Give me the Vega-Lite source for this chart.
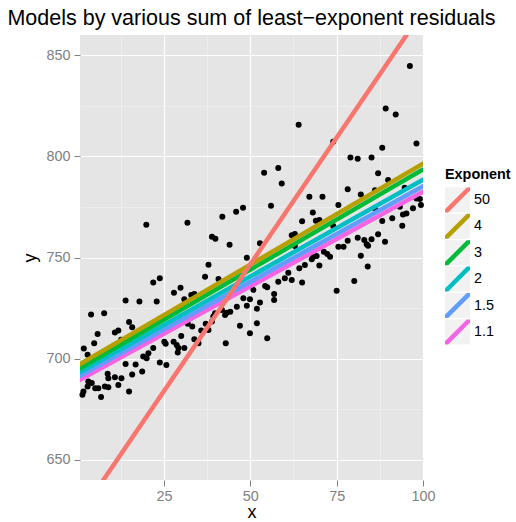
{
  "$schema": "https://vega.github.io/schema/vega-lite/v6.json",
  "width": 343,
  "height": 445,
  "autosize": {"type": "none"},
  "padding": {"left": 80, "top": 35, "right": 93, "bottom": 42},
  "background": "white",
  "title": {
    "text": "Models by various sum of least−exponent residuals",
    "font": "Liberation Sans",
    "fontSize": 21.5,
    "fontWeight": "normal",
    "color": "black",
    "anchor": "middle",
    "offset": 6
  },
  "config": {
    "view": {"fill": "#e5e5e5", "stroke": null},
    "font": "Liberation Sans",
    "axis": {
      "domain": false,
      "tickColor": "#7f7f7f",
      "tickSize": 6,
      "tickWidth": 1,
      "labelColor": "#7f7f7f",
      "labelFont": "Liberation Sans",
      "labelFontSize": 14.4,
      "labelOverlap": false,
      "labelFlush": false,
      "titleFont": "Liberation Sans",
      "titleFontSize": 18,
      "titleFontWeight": "normal",
      "titleColor": "black"
    },
    "legend": {
      "padding": 0,
      "titleFont": "Liberation Sans",
      "titleFontSize": 14.4,
      "titleFontWeight": "bold",
      "titleColor": "black",
      "labelFont": "Liberation Sans",
      "labelFontSize": 14.4,
      "labelColor": "black"
    }
  },
  "datasets": {
    "points": [
      {"x": 23.8, "y": 739.7}, {"x": 21.9, "y": 737.6}, {"x": 13.9, "y": 728.7}, {"x": 17.9, "y": 728.2},
      {"x": 22.9, "y": 728.2}, {"x": 3.9, "y": 721.8}, {"x": 7.7, "y": 722.4}, {"x": 14.9, "y": 718.1},
      {"x": 15.8, "y": 715.5}, {"x": 10.8, "y": 712.9}, {"x": 11.8, "y": 713.9}, {"x": 5.8, "y": 712.2},
      {"x": 4.8, "y": 707.6}, {"x": 12.6, "y": 709.3}, {"x": 1.8, "y": 705.0}, {"x": 2.9, "y": 701.9},
      {"x": 25.1, "y": 708.4}, {"x": 25.5, "y": 707.3}, {"x": 21.9, "y": 705.2}, {"x": 20.5, "y": 702.7},
      {"x": 19.0, "y": 701.0}, {"x": 20.0, "y": 700.2}, {"x": 23.8, "y": 698.1}, {"x": 25.7, "y": 696.9},
      {"x": 13.9, "y": 697.4}, {"x": 16.8, "y": 697.1}, {"x": 18.7, "y": 693.6}, {"x": 8.7, "y": 692.5},
      {"x": 8.9, "y": 690.3}, {"x": 10.8, "y": 690.8}, {"x": 12.7, "y": 690.3}, {"x": 15.8, "y": 692.1},
      {"x": 11.8, "y": 687.0}, {"x": 4.1, "y": 687.9}, {"x": 2.9, "y": 686.2}, {"x": 5.1, "y": 685.4},
      {"x": 6.0, "y": 685.4}, {"x": 7.9, "y": 686.2}, {"x": 1.7, "y": 683.7}, {"x": 1.4, "y": 682.1},
      {"x": 6.8, "y": 681.0}, {"x": 14.9, "y": 683.7}, {"x": 8.9, "y": 685.9}, {"x": 3.1, "y": 688.7},
      {"x": 19.9, "y": 766.2}, {"x": 31.8, "y": 767.2}, {"x": 41.9, "y": 770.1}, {"x": 45.9, "y": 772.6},
      {"x": 47.9, "y": 774.6}, {"x": 38.9, "y": 760.3}, {"x": 39.9, "y": 759.3}, {"x": 44.0, "y": 756.3},
      {"x": 49.0, "y": 749.9}, {"x": 37.9, "y": 746.4}, {"x": 36.9, "y": 740.5}, {"x": 40.8, "y": 739.4},
      {"x": 27.9, "y": 732.6}, {"x": 29.8, "y": 735.1}, {"x": 30.9, "y": 729.4}, {"x": 32.9, "y": 731.5},
      {"x": 33.8, "y": 732.0}, {"x": 48.0, "y": 729.9}, {"x": 49.9, "y": 729.4}, {"x": 46.1, "y": 725.7},
      {"x": 49.0, "y": 726.2}, {"x": 43.2, "y": 722.7}, {"x": 44.2, "y": 723.2}, {"x": 39.8, "y": 722.4},
      {"x": 39.3, "y": 720.8}, {"x": 37.1, "y": 717.2}, {"x": 47.0, "y": 716.2}, {"x": 35.8, "y": 713.9},
      {"x": 31.9, "y": 717.2}, {"x": 30.0, "y": 711.2}, {"x": 49.9, "y": 712.6}, {"x": 33.8, "y": 709.6},
      {"x": 35.0, "y": 707.6}, {"x": 27.8, "y": 708.4}, {"x": 28.7, "y": 706.8}, {"x": 29.2, "y": 705.2},
      {"x": 29.0, "y": 703.0}, {"x": 30.9, "y": 705.2}, {"x": 42.9, "y": 707.6}, {"x": 33.2, "y": 715.9},
      {"x": 38.9, "y": 718.3}, {"x": 41.8, "y": 724.1}, {"x": 42.7, "y": 721.6}, {"x": 37.9, "y": 714.2},
      {"x": 64.0, "y": 815.6}, {"x": 74.0, "y": 807.2}, {"x": 54.0, "y": 791.9}, {"x": 58.1, "y": 794.3},
      {"x": 59.1, "y": 786.6}, {"x": 56.0, "y": 775.6}, {"x": 67.1, "y": 780.0}, {"x": 70.9, "y": 780.0},
      {"x": 75.5, "y": 775.9}, {"x": 68.1, "y": 772.3}, {"x": 69.0, "y": 768.2}, {"x": 70.0, "y": 768.5},
      {"x": 65.0, "y": 767.9}, {"x": 62.0, "y": 761.0}, {"x": 62.9, "y": 761.6}, {"x": 52.8, "y": 757.0},
      {"x": 62.9, "y": 755.7}, {"x": 71.3, "y": 752.9}, {"x": 72.3, "y": 751.7}, {"x": 73.1, "y": 750.4},
      {"x": 75.5, "y": 755.3}, {"x": 68.2, "y": 750.4}, {"x": 69.2, "y": 750.7}, {"x": 67.8, "y": 749.1},
      {"x": 65.8, "y": 746.3}, {"x": 64.2, "y": 744.7}, {"x": 70.0, "y": 746.0}, {"x": 61.0, "y": 742.5},
      {"x": 60.0, "y": 739.7}, {"x": 62.0, "y": 738.9}, {"x": 58.1, "y": 738.0}, {"x": 65.0, "y": 737.6},
      {"x": 75.0, "y": 733.6}, {"x": 54.3, "y": 735.9}, {"x": 54.9, "y": 735.3}, {"x": 50.9, "y": 734.0},
      {"x": 56.9, "y": 732.0}, {"x": 56.9, "y": 729.0}, {"x": 52.8, "y": 727.7}, {"x": 51.9, "y": 724.7},
      {"x": 51.9, "y": 717.5}, {"x": 54.9, "y": 710.1}, {"x": 74.0, "y": 765.6},
      {"x": 96.2, "y": 844.7}, {"x": 89.2, "y": 823.7}, {"x": 92.1, "y": 820.7}, {"x": 98.1, "y": 806.4},
      {"x": 88.2, "y": 804.2}, {"x": 79.0, "y": 799.5}, {"x": 81.1, "y": 798.8}, {"x": 85.1, "y": 799.5},
      {"x": 87.0, "y": 791.6}, {"x": 89.9, "y": 788.3}, {"x": 78.2, "y": 783.7}, {"x": 82.0, "y": 781.2},
      {"x": 86.1, "y": 783.3}, {"x": 94.7, "y": 784.5}, {"x": 99.1, "y": 778.9}, {"x": 99.4, "y": 775.9},
      {"x": 98.1, "y": 779.2}, {"x": 93.3, "y": 775.1}, {"x": 94.2, "y": 771.3}, {"x": 95.2, "y": 771.8},
      {"x": 91.1, "y": 769.4}, {"x": 88.2, "y": 768.0}, {"x": 94.0, "y": 765.7}, {"x": 87.0, "y": 761.5},
      {"x": 81.1, "y": 759.8}, {"x": 78.2, "y": 758.3}, {"x": 83.0, "y": 758.6}, {"x": 83.7, "y": 756.5},
      {"x": 84.1, "y": 755.8}, {"x": 85.1, "y": 759.0}, {"x": 89.0, "y": 757.8}, {"x": 77.0, "y": 755.3},
      {"x": 82.0, "y": 750.9}, {"x": 84.0, "y": 745.5}, {"x": 80.1, "y": 738.4}, {"x": 97.1, "y": 774.3},
      {"x": 86.1, "y": 774.3}
    ],
    "lines": [
      {"Exponent": "1.1", "x": 0.7, "y": 689.6}, {"Exponent": "1.1", "x": 100, "y": 782.5},
      {"Exponent": "1.5", "x": 0.7, "y": 691.5}, {"Exponent": "1.5", "x": 100, "y": 785.2},
      {"Exponent": "2", "x": 0.7, "y": 693.4}, {"Exponent": "2", "x": 100, "y": 788.5},
      {"Exponent": "3", "x": 0.7, "y": 695.2}, {"Exponent": "3", "x": 100, "y": 793.5},
      {"Exponent": "4", "x": 0.7, "y": 697.3}, {"Exponent": "4", "x": 100, "y": 796.4},
      {"Exponent": "50", "x": 7.46, "y": 640}, {"Exponent": "50", "x": 95.25, "y": 860}
    ]
  },
  "layer": [
    {
      "data": {"name": "points"},
      "mark": {"type": "point", "filled": true, "color": "black", "opacity": 1, "size": 36},
      "encoding": {
        "x": {
          "field": "x", "type": "quantitative",
          "scale": {"domain": [0.7, 100], "nice": false, "zero": false},
          "axis": {
            "title": "x",
            "values": [12.5, 25, 37.5, 50, 62.5, 75, 87.5, 100],
            "labelExpr": "datum.value % 25 === 0 ? format(datum.value, 'd') : ''",
            "tickOpacity": {"condition": {"test": "datum.value % 25 !== 0", "value": 0}, "value": 1},
            "gridColor": {"condition": {"test": "datum.value % 25 !== 0", "value": "#f2f2f2"}, "value": "#ffffff"},
            "gridWidth": {"condition": {"test": "datum.value % 25 !== 0", "value": 0.6}, "value": 1.2},
            "labelPadding": 3,
            "titlePadding": 1
          }
        },
        "y": {
          "field": "y", "type": "quantitative",
          "scale": {"domain": [640, 860], "nice": false, "zero": false},
          "axis": {
            "title": "y",
            "values": [650, 675, 700, 725, 750, 775, 800, 825, 850],
            "labelExpr": "datum.value % 50 === 0 ? format(datum.value, 'd') : ''",
            "tickOpacity": {"condition": {"test": "datum.value % 50 !== 0", "value": 0}, "value": 1},
            "gridColor": {"condition": {"test": "datum.value % 50 !== 0", "value": "#f2f2f2"}, "value": "#ffffff"},
            "gridWidth": {"condition": {"test": "datum.value % 50 !== 0", "value": 0.6}, "value": 1.2},
            "labelPadding": 4,
            "titlePadding": 6
          }
        }
      }
    },
    {
      "data": {"name": "lines"},
      "mark": {"type": "square", "opacity": 0, "size": 10, "clip": true},
      "encoding": {
        "x": {"field": "x", "type": "quantitative"},
        "y": {"field": "y", "type": "quantitative"},
        "color": {
          "field": "Exponent", "type": "nominal",
          "scale": {"domain": ["1.1", "1.5", "2", "3", "4", "50"], "range": ["#f2f2f2", "#f2f2f2", "#f2f2f2", "#f2f2f2", "#f2f2f2", "#f2f2f2"]},
          "legend": {
            "orient": "none", "legendX": 365, "legendY": 133,
            "title": " ", "titlePadding": 5,
            "symbolType": "square", "symbolSize": 625, "symbolOpacity": 1, "symbolStrokeWidth": 0,
            "rowPadding": 1.4, "labelOffset": 4, "labelExpr": "''"
          }
        }
      }
    },
    {
      "data": {"name": "lines"},
      "mark": {"type": "trail", "size": 4.5, "clip": true},
      "encoding": {
        "x": {"field": "x", "type": "quantitative"},
        "y": {"field": "y", "type": "quantitative"},
        "fill": {
          "field": "Exponent", "type": "nominal",
          "scale": {"domain": ["50", "4", "3", "2", "1.5", "1.1"], "range": ["#F8766D", "#B79F00", "#00BA38", "#00BFC4", "#619CFF", "#F564E3"]},
          "legend": {
            "orient": "none", "legendX": 365, "legendY": 133,
            "title": "Exponent", "titlePadding": 5,
            "symbolType": "M-1,0.745L-1,1L-0.745,1L1,-0.745L1,-1L0.745,-1Z",
            "symbolSize": 625, "symbolStrokeWidth": 0, "symbolOpacity": 1,
            "rowPadding": 1.4, "labelOffset": 4
          }
        }
      }
    }
  ]
}
